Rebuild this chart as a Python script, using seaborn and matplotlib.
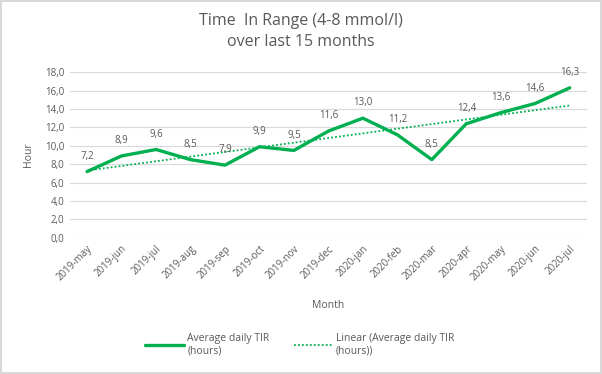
import numpy as np
import pandas as pd
import matplotlib.pyplot as plt
import seaborn as sns

sns.set_style("white")
plt.rcParams['font.family'] = ['Open Sans', 'DejaVu Sans']

# data
months = ['2019-may', '2019-jun', '2019-jul', '2019-aug', '2019-sep', '2019-oct',
          '2019-nov', '2019-dec', '2020-jan', '2020-feb', '2020-mar', '2020-apr',
          '2020-may', '2020-jun', '2020-jul']
tir_hours = [7.2, 8.9, 9.6, 8.5, 7.9, 9.9, 9.5, 11.6, 13.0, 11.2, 8.5, 12.4, 13.6, 14.6, 16.3]

df = pd.DataFrame({'pos': np.arange(len(months)), 'month': months, 'tir': tir_hours})

green = '#00B050'
grey = '#595959'

fig = plt.figure(figsize=(6.02, 3.74), dpi=100)
fig.patch.set_edgecolor('#d9d9d9')
fig.patch.set_linewidth(1.5)
ax = fig.add_axes([0.116, 0.364, 0.859, 0.443])

sns.lineplot(data=df, x='pos', y='tir', ax=ax, color=green, linewidth=2.4,
             label='Average daily TIR\n(hours)')
sns.regplot(data=df, x='pos', y='tir', ax=ax, scatter=False, ci=None, truncate=True,
            line_kws={'color': green, 'linestyle': (0, (1, 1.2)), 'linewidth': 1.3},
            label='Linear (Average daily TIR\n(hours))')

# value labels
for x, y in zip(df['pos'], df['tir']):
    ax.annotate(f'{y:.1f}'.replace('.', ','), (x, y), xytext=(0, 7),
                textcoords='offset points', ha='center', va='bottom',
                fontsize=7, color=grey)

ax.set_xlim(-0.5, len(months) - 0.5)
ax.set_ylim(0, 18)
ax.set_yticks(np.arange(0, 18.1, 2))
ax.set_yticklabels([f'{v:.1f}'.replace('.', ',') for v in np.arange(0, 18.1, 2)])
ax.set_xticks(df['pos'])
ax.set_xticklabels(months, rotation=45, ha='right', rotation_mode='anchor')
ax.tick_params(axis='both', length=0, labelsize=7, labelcolor=grey, pad=4)
ax.grid(axis='y', color='#d9d9d9', linewidth=0.8)
ax.set_axisbelow(True)
sns.despine(ax=ax, left=True, bottom=True, top=True, right=True)

ax.set_xlabel('Month', fontsize=7.5, color=grey, labelpad=12)
ax.set_ylabel('Hour', fontsize=7.5, color=grey, labelpad=8)
fig.text(0.5, 0.965, 'Time  In Range (4-8 mmol/l)\nover last 15 months', ha='center', va='top',
         fontsize=11.5, color=grey, linespacing=1.45)

ax.legend(loc='center', bbox_to_anchor=(0.445, -0.645), ncol=2, frameon=False,
          fontsize=7.5, labelcolor=grey, handlelength=3.7, handletextpad=0.3,
          columnspacing=2.4)

fig.savefig('out.png', dpi=100, edgecolor=fig.get_edgecolor())
